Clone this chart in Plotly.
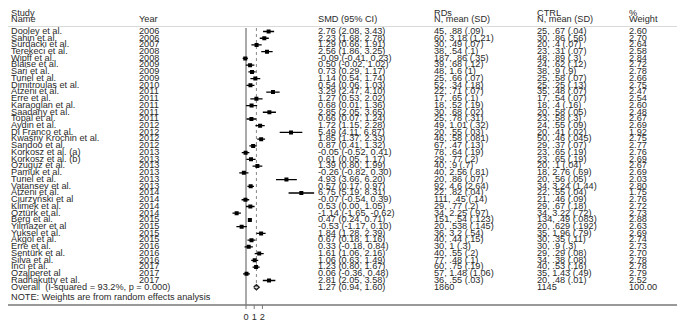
import plotly.graph_objects as go

studies = ["Dooley et al.", "Sahin et al.", "Surdacki et al.", "Terekeci et al.", "Wipff et al.",
           "Blaise et al.", "Sari et al.", "Turiel et al.", "Dimitroulas et al.", "Atzeni et al.",
           "Erre et al.", "Karaoglan et al.", "Saadany et al.", "Topal et al.", "Aydin et al.",
           "Di Franco et al.", "Kwaśny Krochin et al.", "Sandoo et al.", "Korkosz et al. (a)",
           "Korkosz et al. (b)", "Ozuguz et al.", "Pamuk et al.", "Turiel et al.", "Vatansev et al.",
           "Atzeni et al.", "Ciurzyński et al", "Klimek et al.", "Öztürk et al.", "Berg et al.",
           "Yilmazer et al", "Yuksel et al.", "Akgol et al.", "Erre et al.", "Sentürk et al.",
           "Silva et al.", "Inci et al.", "Ozalperet al", "Radhakutty et al."]
years = [2006, 2006, 2007, 2008, 2008, 2009, 2009, 2009, 2010, 2011, 2011, 2011, 2011, 2011,
         2012, 2012, 2012, 2012, 2013, 2013, 2013, 2013, 2013, 2013, 2014, 2014, 2014, 2014,
         2015, 2015, 2015, 2015, 2016, 2016, 2016, 2017, 2017, 2017]
smd = [2.76, 2.23, 1.29, 2.56, -0.09, 0.50, 0.73, 1.14, 0.54, 3.29, 1.27, 0.68, 2.85, 0.66,
       1.72, 5.49, 1.85, 0.87, -0.05, 0.61, 1.39, -0.26, 4.93, 0.57, 6.75, -0.07, 0.53, -1.14,
       0.47, -0.53, 1.84, 0.67, 0.33, 1.61, 1.06, 1.23, 0.06, 2.81]
ci_lo = [2.08, 1.68, 0.66, 1.86, -0.41, -0.02, 0.29, 0.54, 0.06, 2.47, 0.53, 0.01, 2.05, 0.07,
         1.15, 4.11, 1.37, 0.41, -0.52, 0.05, 0.80, -0.82, 3.66, 0.17, 5.19, -0.54, 0.00, -1.65,
         0.24, -1.17, 1.28, 0.18, -0.18, 1.06, 0.63, 0.80, -0.36, 2.05]
ci_hi = [3.43, 2.78, 1.91, 3.25, 0.23, 1.02, 1.17, 1.74, 1.03, 4.10, 2.02, 1.36, 3.65, 1.24,
         2.28, 6.87, 2.33, 1.32, 0.41, 1.17, 1.99, 0.30, 6.20, 0.97, 8.31, 0.39, 1.05, -0.62,
         0.71, 0.10, 2.39, 1.16, 0.84, 2.16, 1.49, 1.67, 0.48, 3.58]
rds = ["45, .88 (.09)", "60, 3.18 (1.21)", "30, .49 (.07)", "38, .54 (.1)", "187, .86 (.35)",
       "39, .68 (.12)", "48, 1.6 (1)", "25, .66 (.07)", "52, .34 (.18)", "22, .71 (.07)",
       "17, .65 (.1)", "18, .52 (.19)", "30, .68 (.02)", "25, .78 (.31)", "49, 1.01 (.32)",
       "20, .55 (.03)", "46, .58 (.081)", "67, .47 (.13)", "78, .64 (.19)", "29, .77 (.2)",
       "40, .9 (.7)", "40, 2.56 (.81)", "20, .86 (.07)", "92, 4.6 (2.64)", "22, .82 (.04)",
       "111, .45 (.14)", "29, .77 (.2)", "34, 2.25 (.97)", "151, .54 (.123)", "20, .538 (.145)",
       "36, 3.2 (.54)", "40, .44 (.15)", "30, 1 (.3)", "40, .55 (.2)", "77, .48 (.1)",
       "60, .75 (.19)", "57, 1.48 (1.06)", "36, .55 (.03)"]
ctrl = ["25, .67 (.04)", "30, .86 (.56)", "20, .4 (.07)", "23, .31 (.07)", "48, .89 (.3)",
        "24, .62 (.12)", "38, .9 (.9)", "25, .58 (.07)", "25, .25 (.13)", "35, .48 (.07)",
        "17, .54 (.07)", "18, .4 (.16)", "20, .58 (.05)", "23, .58 (.3)", "24, .55 (.09)",
        "20, .41 (.02)", "50, .46 (.045)", "29, .37 (.07)", "23, .65 (.19)", "23, .65 (.19)",
        "20, .1 (.04)", "18, 2.76 (.69)", "20, .56 (.05)", "34, 3.24 (1.44)", "22, .55 (.04)",
        "21, .46 (.09)", "29, .67 (.18)", "34, 3.22 (.72)", "134, .49 (.083)", "20, .629 (.192)",
        "35, 1.96 (.79)", "30, .35 (.11)", "30, .9 (.3)", "29, .29 (.08)", "34, .38 (.08)",
        "40, .53 (.16)", "35, 1.43 (.49)", "20, .48 (.01)"]
weights = [2.60, 2.70, 2.64, 2.58, 2.84, 2.72, 2.78, 2.66, 2.75, 2.47, 2.54, 2.60, 2.48, 2.67,
           2.69, 1.92, 2.75, 2.77, 2.76, 2.69, 2.67, 2.69, 2.03, 2.80, 1.75, 2.76, 2.72, 2.73,
           2.88, 2.63, 2.69, 2.74, 2.73, 2.70, 2.78, 2.78, 2.79, 2.52]
overall_label = "Overall  (I-squared = 93.2%, p = 0.000)"
overall_smd, overall_lo, overall_hi = 1.27, 0.94, 1.60
overall_rds_n, overall_ctrl_n, overall_weight = "1860", "1145", "100.00"
note = "NOTE: Weights are from random effects analysis"
x_ticks = [0, 1, 2]

W, H = 685, 323
ROW0, ROWH = 23.5, 6.73           # pixel position of first row and row pitch
AXIS_PX = 297.0                   # pixel of bottom axis line
n = len(studies)
rows = list(range(n))
r_overall = n
def px2row(p):
    return (p - ROW0) / ROWH

TXT = "#2a2a2a"
FONT = "Liberation Sans Narrow, Liberation Sans, Arial, sans-serif"
FS = 9.2

fig = go.Figure()

def text_col(xpx, ys, texts, size=FS, axis="x2", pos="middle right"):
    fig.add_trace(go.Scatter(x=[xpx] * len(ys) if not isinstance(xpx, list) else xpx,
                             y=ys, text=texts, mode="text",
                             textposition=pos, xaxis=axis, yaxis="y",
                             textfont=dict(family=FONT, size=size, color=TXT),
                             hoverinfo="skip", showlegend=False, cliponaxis=False))

# header
h1, h2 = px2row(5.5), px2row(12)
text_col(3, [h1, h2], ["Study", "Name"])
text_col(131, [h2], ["Year"])
text_col(310, [h2], ["SMD (95% CI)"])
text_col(426, [h1, h2], ["RDs", "N, mean (SD)"])
text_col(529, [h1, h2], ["CTRL", "N, mean (SD)"])
text_col(621, [h1, h2], ["%", "Weight"])

# body
text_col(3, rows + [r_overall], studies + [overall_label])
text_col(131, rows, [str(y) for y in years])
smd_txt = [f"{s:.2f} ({l:.2f}, {h:.2f})" for s, l, h in zip(smd, ci_lo, ci_hi)]
smd_txt.append(f"{overall_smd:.2f} ({overall_lo:.2f}, {overall_hi:.2f})")
text_col(310, rows + [r_overall], smd_txt)
text_col(426, rows + [r_overall], rds + [overall_rds_n])
text_col(529, rows + [r_overall], ctrl + [overall_ctrl_n])
text_col(621, rows + [r_overall], [f"{w:.2f}" for w in weights] + [overall_weight])
text_col(3, [px2row(289.5)], [note])

# reference lines
top_r = px2row(20)
axis_r = px2row(AXIS_PX)
fig.add_trace(go.Scatter(x=[0, 0], y=[top_r, axis_r], mode="lines",
                         line=dict(color="#555555", width=1), xaxis="x", yaxis="y",
                         hoverinfo="skip", showlegend=False))
fig.add_trace(go.Scatter(x=[overall_smd, overall_smd], y=[top_r, r_overall], mode="lines",
                         line=dict(color="#888888", width=1, dash="3px,3px"), xaxis="x", yaxis="y",
                         hoverinfo="skip", showlegend=False))

# studies
fig.add_trace(go.Scatter(
    x=smd, y=rows, mode="markers", xaxis="x", yaxis="y",
    marker=dict(symbol="square", size=4, color="black"),
    error_x=dict(type="data", symmetric=False,
                 array=[h - s for s, h in zip(smd, ci_hi)],
                 arrayminus=[s - l for s, l in zip(smd, ci_lo)],
                 color="black", thickness=1.3, width=0),
    hoverinfo="skip", showlegend=False))

# overall diamond
dh = 0.38
fig.add_trace(go.Scatter(
    x=[overall_lo, overall_smd, overall_hi, overall_smd, overall_lo],
    y=[r_overall, r_overall - dh, r_overall, r_overall + dh, r_overall],
    mode="lines", line=dict(color="#222222", width=1.5), xaxis="x", yaxis="y",
    hoverinfo="skip", showlegend=False))

# full-width lines
sep_r = px2row(18.5)
fig.add_shape(type="line", xref="paper", yref="y", x0=0, x1=1, y0=sep_r, y1=sep_r,
              line=dict(color="#d9d9d9", width=1))
fig.add_shape(type="line", xref="paper", yref="y", x0=0, x1=1, y0=axis_r, y1=axis_r,
              line=dict(color="#777777", width=1.5))

# tick marks and labels on the forest axis
tick_len = 4.0 / ROWH
tx, ty = [], []
for t in x_ticks:
    tx += [t, t, None]
    ty += [axis_r, axis_r + tick_len, None]
fig.add_trace(go.Scatter(x=tx, y=ty, mode="lines", line=dict(color="#777777", width=1),
                         xaxis="x", yaxis="y", hoverinfo="skip", showlegend=False))
text_col(x_ticks, [px2row(310)] * len(x_ticks), [str(t) for t in x_ticks],
         axis="x", pos="middle center")

# forest axis: 0 at 238 px, 8.2 px per unit
x0px, ppu = 238.0, 8.2
xr = [-2.0, 9.0]
d0 = (x0px + xr[0] * ppu) / W
d1 = (x0px + xr[1] * ppu) / W

fig.update_layout(
    width=W, height=H,
    margin=dict(l=0, r=0, t=0, b=0),
    paper_bgcolor="white", plot_bgcolor="rgba(0,0,0,0)",
    xaxis=dict(domain=[d0, d1], range=xr, anchor="y", visible=False),
    xaxis2=dict(domain=[0, 1], range=[0, W], anchor="y", visible=False),
    yaxis=dict(domain=[0, 1], range=[px2row(H), px2row(0)], visible=False, anchor="x"),
)

fig.write_html("out.html")
